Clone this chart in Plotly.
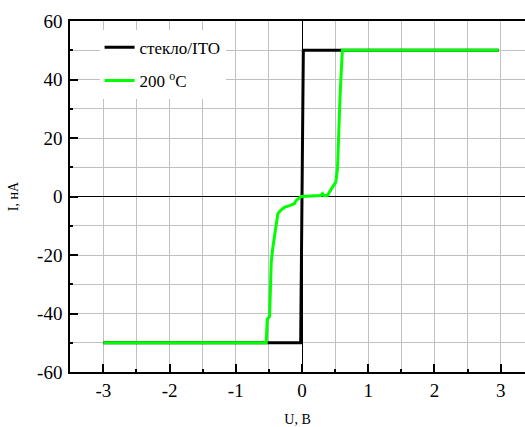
import plotly.graph_objects as go

# Data
ito_u = [-3.0, -0.02, 0.02, 2.97]
ito_i = [-50, -50, 50, 50]

t200_u = [-3.0, -0.54, -0.525, -0.49, -0.476, -0.465, -0.44, -0.40, -0.39, -0.365,
          -0.326, -0.266, -0.19, -0.116, -0.09, -0.015, 0.28, 0.31, 0.33, 0.386,
          0.46, 0.51, 0.536, 0.545, 0.57, 0.575, 0.596, 0.61, 2.97]
t200_i = [-50, -50, -42, -41, -31, -22.5, -17.4, -10.5, -9.4, -5.9,
          -4.8, -3.7, -3.1, -2.5, -1.4, 0, 0.3, 1.0, 0.3, 0.4,
          3.2, 4.9, 9.5, 16.9, 29.5, 34.6, 44.3, 50, 50]

x_ticks = [-3, -2, -1, 0, 1, 2, 3]
y_ticks = [-60, -40, -20, 0, 20, 40, 60]

font_family = "Liberation Serif"

fig = go.Figure()
fig.add_trace(go.Scatter(x=ito_u, y=ito_i, mode="lines", name="стекло/ITO",
                         line=dict(color="black", width=3), legendgroup="a"))
fig.add_trace(go.Scatter(x=t200_u, y=t200_i, mode="lines", name="200 <sup>o</sup>C",
                         line=dict(color="#00ff00", width=3), legendgroup="b"))

grid_color = "#c0c0c0"

fig.update_layout(
    width=525, height=427,
    margin=dict(l=70, r=0, t=21, b=55),
    paper_bgcolor="white", plot_bgcolor="white",
    font=dict(family=font_family, color="black"),
    showlegend=True,
    legend=dict(x=0.065, y=0.975, xanchor="left", yanchor="top",
                bgcolor="white", borderwidth=0, font=dict(size=17, family=font_family),
                tracegroupgap=8, traceorder="grouped"),
    xaxis=dict(
        range=[-3.503, 3.367], tickvals=x_ticks, ticktext=[str(v) for v in x_ticks],
        ticks="inside", ticklen=8, tickwidth=1.5, tickcolor="black",
        showline=True, linecolor="black", linewidth=1.5, mirror=True,
        showgrid=False, zeroline=True, zerolinecolor="black", zerolinewidth=1,
        tickfont=dict(size=19, family=font_family, color="black"), automargin=False,
        minor=dict(dtick=0.5, tick0=0.5, ticks="inside", ticklen=3, tickcolor="black",
                   showgrid=True, gridcolor=grid_color, gridwidth=1),
        title=dict(text="U, В", font=dict(size=14, family=font_family), standoff=20),
    ),
    yaxis=dict(
        range=[-60, 60], tickvals=y_ticks, ticktext=[str(v) for v in y_ticks],
        ticks="inside", ticklen=8, tickwidth=1.5, tickcolor="black",
        showline=True, linecolor="black", linewidth=1.5, mirror=False,
        showgrid=False, zeroline=True, zerolinecolor="black", zerolinewidth=1,
        tickfont=dict(size=19, family=font_family, color="black"), automargin=False,
        ticklabelstandoff=2,
        minor=dict(dtick=10, tick0=10, ticks="inside", ticklen=3, tickcolor="black",
                   showgrid=True, gridcolor=grid_color, gridwidth=1),
        title=dict(text="I, нА", font=dict(size=14, family=font_family), standoff=15),
    ),
)

fig.write_html("out.html", config={"displayModeBar": False},
               post_script="document.body.style.margin='0';document.body.style.overflow='hidden';")
